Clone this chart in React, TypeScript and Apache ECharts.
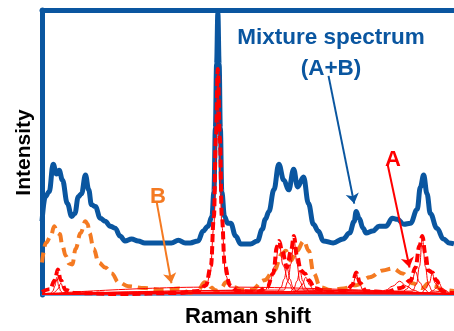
import React, { useEffect, useRef } from "react";
import * as echarts from "echarts";

// Raman shift (arbitrary units) vs intensity (arbitrary units)
const mixture: number[][] = [
  [0, 75], [3.3, 100], [7.3, 105], [11.3, 133], [14.7, 123], [17.3, 127], [20.7, 117], [25.7, 93],
  [30, 80], [33.3, 83], [36.7, 100], [40, 103], [44, 122], [47.3, 107], [50, 92], [54, 90],
  [59, 78], [64, 75], [69, 70], [74, 68], [79, 60], [84, 55], [90.7, 57], [97.3, 55],
  [104, 53], [115, 53], [124, 53], [131, 53], [138, 55.7], [145, 53], [150, 53], [158, 55],
  [163, 65], [168, 70], [172, 80], [174, 105], [175.5, 170], [176.7, 235], [178, 287],
  [179.3, 235], [180.5, 170], [182, 105], [184.7, 80], [188, 73], [191, 73], [196, 60],
  [201, 52], [211, 52], [218, 55], [223, 67], [226, 77], [229.7, 85], [234.7, 107],
  [239.7, 133], [244.7, 117], [249.7, 107], [254.7, 128], [258.7, 110], [264.7, 120],
  [269.7, 93], [274.7, 72], [279.7, 65], [284.7, 55], [294.7, 53], [304.7, 57], [311.3, 63],
  [316, 75], [318, 85], [321, 78], [325, 68], [328, 63], [334.7, 65], [341.3, 70], [348, 70],
  [354.7, 78], [359.7, 77], [366.3, 72], [373, 73], [379.7, 87], [383, 110], [386.3, 122],
  [389.7, 103], [393, 83], [399.7, 68], [406.3, 57], [412, 53], [417, 52],
];

const spectrumB: number[][] = [
  [0, 33], [4, 53], [9, 60], [12.3, 70], [15.7, 63], [18, 62], [20.7, 50], [24, 40],
  [27.3, 32], [30.7, 31], [34, 47], [39, 63], [44, 75], [46.3, 72], [48, 63], [52.3, 47],
  [57.3, 33], [64, 28], [70.7, 22], [77.3, 13], [87.3, 9], [104, 7], [124, 5], [138, 6.7],
  [149.7, 2.3], [158, 5], [164.7, 13], [168, 12], [171, 8], [175, 5], [178, 4], [182, 8],
  [186, 13], [191, 12], [195, 8], [201, 5], [211.7, 5], [225, 15], [235, 25], [243, 42],
  [246.7, 45], [251.7, 35], [258, 45], [265, 55], [270, 45], [275, 22], [281.7, 8],
  [291.7, 5], [305, 6.7], [318.3, 10], [331.7, 18], [345, 25], [355, 27], [365, 22],
  [375, 12], [385, 7], [391, 12], [398, 9], [405, 5], [417, 4],
];

const spectrumA: number[][] = [
  [0, 3], [8, 6], [13, 15], [16, 26], [19, 15], [24, 5], [33, 2], [78, 1], [138, 2], [158, 4],
  [166, 10], [171, 30], [174, 80], [176, 160], [178, 230], [180, 160], [182, 80], [185, 30],
  [190, 10], [198, 4], [218, 3], [228, 8], [234, 22], [238, 50], [240, 55], [243, 45],
  [248, 28], [252, 45], [255, 60], [258, 40], [262, 25], [266, 22], [270, 15], [276, 7],
  [288, 3], [308, 4], [314, 10], [318, 23], [322, 12], [328, 4], [348, 3], [363, 7],
  [373, 15], [378, 28], [382, 50], [385, 60], [388, 42], [391, 25], [395, 23], [399, 15],
  [405, 4], [412, 2], [417, 2],
];

// individual component bands of A
const compA1: number[][] = [[0, 1], [9, 2], [11, 4], [13, 9], [15, 18], [17, 9], [19, 4], [21, 2], [417, 1]];
const compA2: number[][] = [[0, 1], [10, 1.5], [13, 3], [16, 6], [19, 12], [22, 6], [25, 3], [28, 1.5], [417, 1]];
const compA3: number[][] = [[0, 1], [166, 8], [170, 20], [174, 70], [176, 150], [178, 225], [180, 150], [182, 70], [186, 20], [190, 8], [417, 1]];
const compA4: number[][] = [[0, 1], [226, 5], [230, 12], [236, 30], [240, 53], [244, 30], [250, 12], [254, 5], [417, 1]];
const compA5: number[][] = [[0, 1], [238, 3], [242, 8], [245, 16], [248, 28], [251, 16], [254, 8], [258, 3], [417, 1]];
const compA6: number[][] = [[0, 1], [245, 5], [249, 14], [252, 32], [255, 58], [258, 32], [261, 14], [265, 5], [417, 1]];
const compA7: number[][] = [[0, 1], [251, 3], [255, 7], [258, 14], [261, 25], [264, 14], [267, 7], [271, 3], [417, 1]];
const compA8: number[][] = [[0, 1], [255, 2], [259, 5], [263, 10], [267, 18], [271, 10], [275, 5], [279, 2], [417, 1]];
const compA9: number[][] = [[0, 1], [306, 2], [311, 5], [315, 12], [318, 22], [321, 12], [325, 5], [330, 2], [417, 1]];
const compA10: number[][] = [[0, 1], [340, 2], [348, 5], [355, 9], [362, 14], [369, 9], [376, 5], [384, 2], [417, 1]];
const compA11: number[][] = [[0, 1], [364, 2], [369, 6], [374, 13], [378, 24], [382, 13], [387, 6], [392, 2], [417, 1]];
const compA12: number[][] = [[0, 1], [375, 4], [379, 11], [382, 29], [385, 58], [388, 29], [391, 11], [395, 4], [417, 1]];
const compA13: number[][] = [[0, 1], [384, 2], [388, 6], [392, 12], [395, 22], [398, 12], [402, 6], [406, 2], [417, 1]];
const compA14: number[][] = [[0, 1], [390, 1.5], [395, 4], [399, 7], [402, 12], [405, 7], [409, 4], [414, 1.5], [417, 1]];
const componentsA = [compA1, compA2, compA3, compA4, compA5, compA6, compA7, compA8, compA9, compA10, compA11, compA12, compA13, compA14];

// annotation arrows: [from, to] in data coordinates
const arrowMixture: number[][] = [[290, 223], [316, 93]];
const arrowA: number[][] = [[350, 132], [372, 28]];
const arrowB: number[][] = [[116, 95], [131, 12]];

const BLUE = "#0a56a0";
const ORANGE = "#f47a22";
const RED = "#ff0000";

function arrow(pts: number[][], color: string) {
  return {
    silent: true,
    symbol: ["none", "arrow"],
    symbolSize: 10,
    label: { show: false },
    lineStyle: { color, width: 2, type: "solid" },
    emphasis: { disabled: true },
    data: [[{ coord: pts[0] }, { coord: pts[1] }]],
  };
}

export default function App() {
  const ref = useRef<HTMLDivElement>(null);
  useEffect(() => {
    if (!ref.current) return;
    const chart = echarts.init(ref.current, undefined, { renderer: "svg" });
    const font = "Liberation Sans, Arial, sans-serif";
    chart.setOption({
      animation: false,
      grid: { left: 42, right: -5, top: 10, bottom: 30.5 },
      xAxis: [
        {
          type: "value", min: 0, max: 417,
          name: "Raman shift", nameLocation: "middle", nameGap: 9,
          nameTextStyle: { fontFamily: font, fontWeight: "bold", fontSize: 22, color: "#000" },
          axisLine: { show: true, onZero: false, lineStyle: { color: "#4a86c8", width: 1.5 } },
          axisTick: { show: false }, axisLabel: { show: false }, splitLine: { show: false },
        },
        {
          type: "value", min: 0, max: 417, position: "top",
          axisLine: { show: true, onZero: false, lineStyle: { color: BLUE, width: 5 } },
          axisTick: { show: false }, axisLabel: { show: false }, splitLine: { show: false },
        },
      ],
      yAxis: {
        type: "value", min: 0, max: 290,
        name: "Intensity", nameLocation: "middle", nameGap: 9,
        nameTextStyle: { fontFamily: font, fontWeight: "bold", fontSize: 21, color: "#000" },
        axisLine: { show: true, onZero: false, lineStyle: { color: BLUE, width: 5 } },
        axisTick: { show: false }, axisLabel: { show: false }, splitLine: { show: false },
      },
      series: [
        {
          name: "Mixture spectrum (A+B)", type: "line", data: mixture, smooth: 0.4, smoothMonotone: "x",
          showSymbol: false, lineStyle: { color: BLUE, width: 5 }, z: 2,
          markLine: arrow(arrowMixture, BLUE),
        },
        {
          name: "B", type: "line", data: spectrumB, smooth: 0.4, smoothMonotone: "x",
          showSymbol: false, lineStyle: { color: ORANGE, width: 4, type: [10, 6] }, z: 3,
          markLine: arrow(arrowB, ORANGE),
        },
        ...componentsA.map((c, i) => ({
          name: "A component " + (i + 1), type: "line", data: c, smooth: 0.4, smoothMonotone: "x",
          showSymbol: false, lineStyle: { color: RED, width: 1 }, z: 4,
        })),
        {
          name: "A", type: "line", data: spectrumA, smooth: 0.4, smoothMonotone: "x",
          showSymbol: false, lineStyle: { color: RED, width: 4, type: [8, 4] }, z: 5,
          markLine: arrow(arrowA, RED),
        },
      ],
      graphic: [
        {
          type: "text", x: 331, y: 36,
          style: { text: "Mixture spectrum", fill: BLUE, font: `bold 22.5px ${font}`, align: "center", verticalAlign: "middle" },
        },
        {
          type: "text", x: 331, y: 67,
          style: { text: "(A+B)", fill: BLUE, font: `bold 22.5px ${font}`, align: "center", verticalAlign: "middle" },
        },
        {
          type: "text", x: 393, y: 158,
          style: { text: "A", fill: RED, font: `bold 22px ${font}`, align: "center", verticalAlign: "middle" },
        },
        {
          type: "text", x: 158, y: 195,
          style: { text: "B", fill: ORANGE, font: `bold 22px ${font}`, align: "center", verticalAlign: "middle" },
        },
      ],
    });
    return () => chart.dispose();
  }, []);
  return <div ref={ref} style={{ position: "fixed", left: 0, top: 0, width: 454, height: 331 }} />;
}
